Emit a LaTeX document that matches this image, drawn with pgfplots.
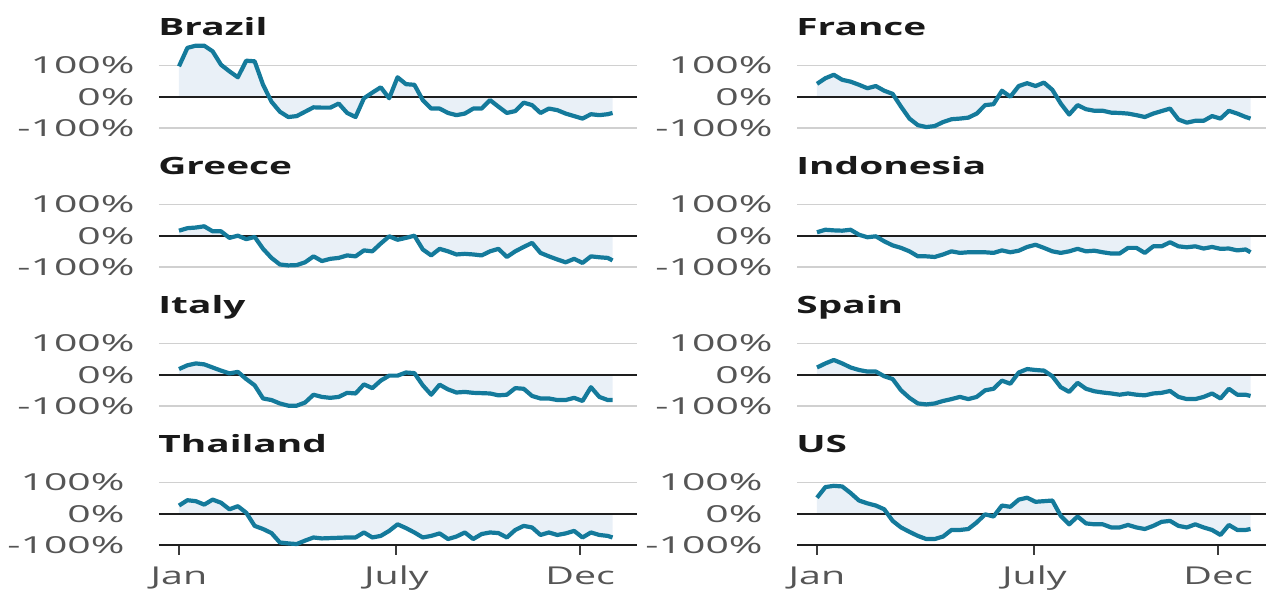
\documentclass[border=0pt]{standalone}
\usepackage{fontspec}
\setmainfont{Open Sans}
\usepackage{graphicx}
\usepackage{pgfplots}
\pgfplotsset{compat=1.18}
\usepackage{pgfplotstable}
\definecolor{lineblue}{RGB}{20,122,155}
\definecolor{fillblue}{RGB}{233,240,247}
\definecolor{gridgray}{RGB}{208,208,208}
\definecolor{zeroblack}{RGB}{30,30,30}
\definecolor{labelgray}{RGB}{85,85,85}
\definecolor{titleblack}{RGB}{25,25,25}
\definecolor{tickgray}{RGB}{60,60,60}

\pgfplotstableread{
day brazil france greece indonesia italy spain thailand us
1 97 41 16 11 18 23 26 51
8 156 59 24 19 30 36 43 85
15 163 70 26 17 36 47 40 89
22 163 54 30 16 33 36 29 87
29 145 48 14 19 23 23 45 66
36 102 38 14 3 13 15 35 42
43 81 27 -7 -5 4 10 14 33
50 62 34 0 -2 9 10 24 26
57 115 19 -11 -18 -14 -5 3 14
64 113 9 -4 -31 -34 -14 -39 -23
71 38 -32 -42 -39 -76 -50 -49 -44
78 -16 -70 -71 -50 -81 -74 -62 -58
85 -48 -91 -92 -66 -92 -92 -92 -71
92 -65 -97 -95 -66 -99 -95 -95 -81
99 -62 -94 -94 -68 -99 -92 -97 -81
106 -48 -81 -85 -60 -89 -84 -86 -73
113 -34 -72 -66 -50 -64 -78 -76 -52
120 -35 -70 -81 -55 -71 -71 -79 -52
127 -35 -67 -74 -53 -74 -78 -78 -49
134 -22 -54 -71 -53 -71 -71 -77 -28
141 -52 -27 -63 -53 -58 -50 -76 -2
148 -65 -24 -66 -55 -60 -45 -76 -9
155 -5 19 -47 -47 -31 -19 -60 26
162 13 0 -50 -53 -43 -29 -76 22
169 30 34 -25 -48 -19 7 -71 45
176 -5 43 -2 -36 -3 18 -55 51
183 62 34 -13 -29 -3 15 -34 38
190 40 45 -7 -39 7 13 -46 40
197 38 22 0 -50 5 -5 -60 42
204 -11 -22 -44 -55 -34 -40 -76 -7
211 -38 -57 -63 -50 -64 -55 -71 -34
218 -38 -27 -42 -42 -32 -26 -63 -9
225 -52 -40 -50 -50 -47 -45 -81 -31
232 -59 -45 -60 -48 -57 -53 -73 -34
239 -54 -45 -58 -53 -55 -57 -60 -34
246 -38 -51 -60 -57 -58 -60 -81 -44
253 -38 -52 -63 -57 -59 -64 -65 -44
260 -11 -54 -50 -39 -60 -60 -60 -36
267 -32 -59 -42 -39 -66 -64 -62 -44
274 -52 -65 -68 -55 -64 -66 -76 -49
281 -46 -54 -50 -34 -43 -60 -52 -39
288 -19 -46 -36 -34 -45 -58 -39 -26
295 -27 -38 -23 -21 -68 -52 -44 -23
302 -52 -73 -55 -34 -76 -71 -68 -39
309 -38 -83 -66 -37 -76 -78 -60 -44
316 -43 -77 -76 -34 -81 -78 -68 -34
323 -54 -77 -85 -41 -81 -71 -63 -44
330 -62 -62 -74 -36 -74 -60 -55 -52
337 -70 -70 -87 -42 -84 -76 -76 -68
344 -56 -45 -66 -41 -40 -45 -60 -36
351 -59 -54 -69 -47 -71 -64 -68 -52
358 -56 -65 -71 -44 -81 -64 -71 -52
362 -52 -70 -79 -53 -81 -68 -76 -49
}\data

\newcommand{\ylab}[1]{\scalebox{1.75}[1]{#1}}
\newcommand{\xlab}[1]{\scalebox{1.6}[1]{#1}}
\newcommand{\ttl}[1]{\scalebox{1.63}[1]{#1}}

\pgfplotsset{
  panel/.style={
    scale only axis, height=31.3pt,
    anchor=south west,
    xmin=-15.65, ymin=-100, ymax=100,
    clip=false,
    axis line style={draw=none},
    ytick={-100,0,100}, yticklabels={\ylab{-100\%},\ylab{0\%},\ylab{100\%}},
    ymajorgrids,
    major grid style={draw=gridgray, line width=0.75pt},
    ytick style={draw=none},
    xtick=\empty,
    yticklabel style={anchor=east, inner sep=0pt, xshift=-12pt,
      font=\fontsize{11.7}{12}\selectfont, text=labelgray},
    title style={at={(0,1)}, anchor=base west, yshift=8.8pt, xshift=-0.5pt, inner sep=0pt,
      font=\bfseries\fontsize{11.9}{12}\selectfont, text=titleblack},
  },
  bottomrow/.style={
    xtick={1,182,335}, xticklabels={\xlab{Jan},\xlab{July},\xlab{Dec}},
    xtick pos=bottom, tick align=outside, major tick length=5pt,
    xtick style={draw=tickgray, line width=0.9pt},
    xticklabel style={anchor=base, inner sep=0pt, yshift=-15pt,
      font=\fontsize{12.3}{13}\selectfont, text=labelgray},
  },
}

\newcommand{\panel}[8]{%
\begin{axis}[panel, at={(#1,#2)}, width=#3, xmax=#4, title={\ttl{#6}}, #7]
\addplot[fill=fillblue, draw=none] table[x=day,y=#5]{\data} \closedcycle;
\addplot[draw=zeroblack, line width=1pt] coordinates {(-15.65,0) (#4,0)};
#8
\addplot[draw=lineblue, line width=2.1pt, line join=round] table[x=day,y=#5]{\data};
\end{axis}}

\begin{document}
\begin{tikzpicture}
\useasboundingbox (0,0) rectangle (633pt,296pt);
\panel{79.5pt}{232pt}{239pt}{382.35}{brazil}{Brazil}{}{}
\panel{398.5pt}{232pt}{234.5pt}{374.9}{france}{France}{}{}
\panel{79.5pt}{162.5pt}{239pt}{382.35}{greece}{Greece}{}{}
\panel{398.5pt}{162.5pt}{234.5pt}{374.9}{indonesia}{Indonesia}{}{}
\panel{79.5pt}{93pt}{239pt}{382.35}{italy}{Italy}{}{}
\panel{398.5pt}{93pt}{234.5pt}{374.9}{spain}{Spain}{}{}
\panel{79.5pt}{23.5pt}{239pt}{382.35}{thailand}{Thailand}{bottomrow}{\addplot[draw=zeroblack, line width=1pt] coordinates {(-15.65,-100) (382.35,-100)};}
\panel{398.5pt}{23.5pt}{234.5pt}{374.9}{us}{US}{bottomrow}{\addplot[draw=zeroblack, line width=1pt] coordinates {(-15.65,-100) (374.9,-100)};}
\end{tikzpicture}
\end{document}
